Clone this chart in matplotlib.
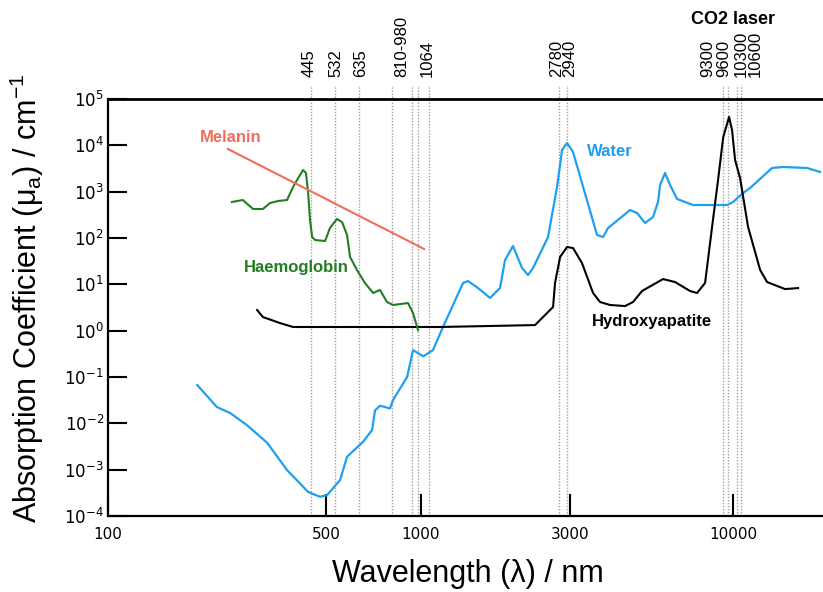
import numpy as np
import matplotlib
matplotlib.use("Agg")
import matplotlib.pyplot as plt
from matplotlib.ticker import NullLocator

# values (wavelength in nm, absorption in cm^-1)
water_wl = [193, 223, 246, 278, 323, 374, 437, 477, 502, 553, 582, 655, 700, 715, 742,
            799, 817, 906, 946, 1020, 1096, 1180, 1368, 1419, 1528, 1669, 1796, 1864,
            1977, 2113, 2208, 2291, 2559, 2734, 2837, 2943, 3076, 3286, 3671, 3837,
            3981, 4682, 4931, 5232, 5546, 5754, 5842, 6060, 6286, 6622, 7447, 9568,
            10000, 10765, 11335, 13330, 14454, 17255, 18990]
water_mu = [0.067, 0.0225, 0.0167, 0.0092, 0.0038, 0.00098, 0.00033, 0.00026, 0.00028,
            0.0006, 0.0019, 0.0040, 0.0072, 0.019, 0.024, 0.021, 0.032, 0.10, 0.38,
            0.28, 0.38, 1.2, 10.7, 11.8, 8.3, 5.1, 8.3, 33.5, 67, 22.5, 15.9, 22.5,
            105, 1262, 7925, 11220, 7178, 1538, 116, 105, 164, 402, 346, 211, 284,
            598, 1392, 2528, 1392, 695, 515, 515, 598, 935, 1200, 3243, 3405, 3243, 2655]

hap_wl = [300, 313, 355, 391, 1154, 2325, 2655, 2694, 2796, 2943, 3076, 3286, 3565,
          3753, 4041, 4513, 4786, 5114, 5970, 6525, 7284, 7670, 8137, 8568, 8954,
          9300, 9710, 9926, 10150, 10530, 11170, 12210, 12850, 14670, 16140]
hap_mu = [2.79, 1.97, 1.46, 1.2, 1.2, 1.32, 3.24, 10.7, 38.9, 63.9, 60.8, 28.8, 6.5,
          4.15, 3.58, 3.40, 4.15, 7.18, 13.0, 11.2, 7.18, 6.5, 10.7, 173, 1786,
          15000, 40900, 21400, 4830, 1970, 173, 20.4, 11.2, 7.9, 8.3]

hb_wl = [249, 270, 291, 313, 330, 350, 374, 391, 406, 421, 430, 437, 443, 450, 460,
         495, 513, 540, 561, 582, 595, 626, 664, 705, 742, 781, 817, 912, 946, 982]
hb_mu = [598, 661, 423, 423, 569, 628, 661, 1262, 1970, 2935, 2528, 935, 244, 105,
         90.5, 86, 164, 257, 221, 116, 38.9, 20.4, 10.7, 6.5, 7.54, 4.15, 3.58, 3.95,
         2.40, 1.03]

melanin_wl = [242, 1026]
melanin_mu = [8330, 58]

laser_lines = [445, 532, 635, 810, 940, 980, 1064, 2780, 2940, 9300, 9600, 10300, 10600]
laser_labels = ["445", "532", "635", "810-980", "1064", "2780", "2940",
                "9300", "9600", "10300", "10600"]
laser_label_wl = [445, 532, 635, 891, 1064, 2780, 2940, 9300, 9600, 10300, 10600]
laser_label_dx = [-2, 1, 2, -3, -2, -3, 3, -15, -4, 4, 14]  # pixels, to keep them apart

xticks = [100, 500, 1000, 3000, 10000]
yticks = [1e-4, 1e-3, 1e-2, 1e-1, 1e0, 1e1, 1e2, 1e3, 1e4, 1e5]
ytick_labels = [r"$10^{-4}$", r"$10^{-3}$", r"$10^{-2}$", r"$10^{-1}$", r"$10^{0}$",
                r"$10^{1}$", r"$10^{2}$", r"$10^{3}$", r"$10^{4}$", r"$10^{5}$"]

blue = "#1f9ff0"
green = "#237d23"
salmon = "#f36b5b"
sans = "Liberation Sans"

fig = plt.figure(figsize=(8.23, 5.92), dpi=100)
ax = fig.add_axes([108 / 823, 1 - 516 / 592, 1 - 108 / 823, 417 / 592])
ax.set_xscale("log")
ax.set_yscale("log")
ax.set_xlim(100, 19400)
ax.set_ylim(1e-4, 1e5)

for w in laser_lines:
    ax.axvline(w, ymin=0, ymax=1.034, color="#a0a0a0", ls=(0, (1, 1.2)), lw=1.0,
               clip_on=False, zorder=1)

for txt, w, dx in zip(laser_labels, laser_label_wl, laser_label_dx):
    ax.annotate(txt, xy=(w, 1.052), xycoords=ax.get_xaxis_transform(),
                xytext=(dx * 0.72, 0), textcoords="offset points", rotation=90,
                ha="center", va="bottom", fontsize=12, family=sans, annotation_clip=False)

ax.text(10000, 1.19, "CO2 laser", transform=ax.get_xaxis_transform(), ha="center",
        va="center", fontsize=13, fontweight="bold", family=sans)

ax.plot(water_wl, water_mu, color=blue, lw=1.6, zorder=3, solid_joinstyle="round")
ax.plot(hap_wl, hap_mu, color="black", lw=1.5, zorder=3, solid_joinstyle="round")
ax.plot(hb_wl, hb_mu, color=green, lw=1.5, zorder=4, solid_joinstyle="round")
ax.plot(melanin_wl, melanin_mu, color=salmon, lw=1.5, zorder=4)

ax.text(247, 15100, "Melanin", color=salmon, fontsize=12, fontweight="bold",
        family=sans, ha="center", va="center")
ax.text(400, 23.6, "Haemoglobin", color=green, fontsize=12, fontweight="bold",
        family=sans, ha="center", va="center")
ax.text(4041, 7180, "Water", color=blue, fontsize=12, fontweight="bold",
        family=sans, ha="center", va="center")
ax.text(5506, 1.54, "Hydroxyapatite", color="black", fontsize=12, fontweight="bold",
        family=sans, ha="center", va="center")

ax.set_xticks(xticks)
ax.set_xticklabels([str(t) for t in xticks], fontsize=11)
ax.set_yticks(yticks)
ax.set_yticklabels(ytick_labels, fontsize=12)
ax.xaxis.set_minor_locator(NullLocator())
ax.yaxis.set_minor_locator(NullLocator())
ax.tick_params(axis="x", direction="in", length=16, width=1.5, pad=8)
ax.tick_params(axis="y", direction="in", length=14, width=1.5, pad=3)

ax.spines["right"].set_visible(False)
ax.spines["top"].set_linewidth(2.0)
ax.spines["left"].set_linewidth(1.6)
ax.spines["bottom"].set_linewidth(1.6)

# axis titles placed directly in figure coordinates
fig.text(468 / 823, 1 - 574 / 592, "Wavelength (λ) / nm", fontsize=22, family=sans,
         ha="center", va="center")
fig.text(27 / 823, 1 - 298 / 592,
         "Absorption Coefficient (μ$_\\mathregular{a}$) / cm$^\\mathregular{-1}$",
         fontsize=22, family=sans, rotation=90, ha="center", va="center")

fig.savefig("out.png", dpi=100)
